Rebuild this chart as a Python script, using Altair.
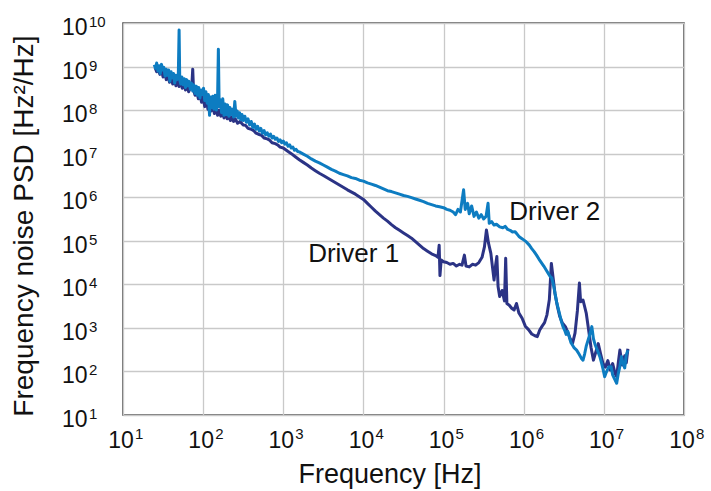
import altair as alt
import pandas as pd

# ---- data (log10 values) ----
d1_logf = [1.40, 1.42, 1.44, 1.46, 1.48, 1.50, 1.52, 1.54, 1.56, 1.58, 1.60, 1.62, 1.64, 1.66, 1.68, 1.70,
           1.72, 1.74, 1.76, 1.78, 1.80, 1.82, 1.84, 1.86, 1.87, 1.88, 1.90, 1.92, 1.94, 1.96, 1.98, 2.00,
           2.02, 2.04, 2.06, 2.08, 2.10, 2.12, 2.14, 2.16, 2.18, 2.20, 2.22, 2.24, 2.26, 2.28, 2.30, 2.32,
           2.34, 2.36, 2.38, 2.40, 2.43, 2.46, 2.50, 2.53, 2.56, 2.60, 2.63, 2.66, 2.70, 2.73, 2.76, 2.80,
           2.83, 2.86, 2.90, 2.93, 2.96, 3.00, 3.03, 3.06, 3.10, 3.15, 3.20, 3.25, 3.30, 3.35, 3.40, 3.45,
           3.50, 3.60, 3.70, 3.80, 3.90, 4.00, 4.05, 4.10, 4.15, 4.20, 4.25, 4.30, 4.35, 4.40, 4.45, 4.50,
           4.55, 4.60, 4.65, 4.70, 4.75, 4.80, 4.85, 4.90, 4.93, 4.945, 4.955, 4.97, 5.00, 5.04, 5.08, 5.12,
           5.16, 5.20, 5.23, 5.26, 5.28, 5.32, 5.36, 5.40, 5.44, 5.48, 5.51, 5.535, 5.56, 5.59, 5.61, 5.63,
           5.65, 5.665, 5.68, 5.70, 5.73, 5.76, 5.775, 5.79, 5.82, 5.85, 5.88, 5.91, 5.94, 5.98, 6.02, 6.06,
           6.10, 6.14, 6.17, 6.20, 6.23, 6.26, 6.29, 6.32, 6.345, 6.37, 6.39, 6.42, 6.45, 6.48, 6.52, 6.55,
           6.58, 6.61, 6.64, 6.67, 6.695, 6.71, 6.74, 6.78, 6.81, 6.84, 6.87, 6.90, 6.93, 6.96, 6.99, 7.02,
           7.05, 7.08, 7.11, 7.14, 7.16, 7.18, 7.20, 7.23, 7.26, 7.28, 7.30]
d1_logp = [8.98, 8.88, 8.96, 8.82, 8.92, 8.76, 8.86, 8.70, 8.80, 8.64, 8.76, 8.60, 8.72, 8.56, 8.68, 8.54,
           8.64, 8.50, 8.60, 8.46, 8.56, 8.42, 8.52, 8.60, 8.94, 8.46, 8.34, 8.44, 8.26, 8.36, 8.18, 8.30,
           8.08, 8.24, 8.02, 8.18, 7.98, 8.12, 7.92, 8.08, 7.88, 8.00, 7.86, 7.96, 7.82, 7.92, 7.80, 7.88,
           7.76, 7.84, 7.74, 7.80, 7.70, 7.74, 7.66, 7.65, 7.58, 7.56, 7.53, 7.47, 7.44, 7.42, 7.36, 7.34,
           7.31, 7.25, 7.23, 7.20, 7.15, 7.13, 7.09, 7.05, 7.00, 6.93, 6.86, 6.80, 6.74, 6.67, 6.61, 6.55,
           6.50, 6.39, 6.28, 6.17, 6.07, 5.95, 5.86, 5.77, 5.68, 5.60, 5.52, 5.45, 5.37, 5.30, 5.24, 5.18,
           5.12, 5.06, 4.98, 4.90, 4.82, 4.76, 4.70, 4.66, 4.62, 4.90, 4.20, 4.56, 4.52, 4.50, 4.46, 4.48,
           4.42, 4.46, 4.44, 4.67, 4.42, 4.40, 4.46, 4.44, 4.50, 4.62, 4.86, 5.25, 4.95, 4.71, 4.40, 4.10,
           4.45, 4.64, 3.95, 3.72, 3.86, 3.62, 4.60, 3.56, 3.52, 3.45, 3.41, 3.56, 3.34, 3.22, 3.04, 2.96,
           2.86, 2.82, 2.80, 2.95, 3.04, 3.12, 3.30, 3.65, 4.48, 4.10, 3.79, 3.50, 3.26, 3.12, 3.03, 2.90,
           2.75, 2.65, 2.88, 3.40, 4.03, 3.60, 3.64, 3.34, 2.95, 2.55, 2.26, 2.45, 2.64, 2.40, 2.18, 2.10,
           2.25, 2.03, 2.18, 1.95, 1.88, 2.20, 2.49, 2.15, 2.36, 2.20, 2.52]

d2_logf = [1.390, 1.405, 1.420, 1.435, 1.450, 1.465, 1.480, 1.495, 1.510, 1.525, 1.540, 1.555, 1.570,
           1.585, 1.600, 1.615, 1.630, 1.645, 1.660, 1.675, 1.690, 1.700, 1.708, 1.720, 1.735, 1.750,
           1.765, 1.780, 1.795, 1.810, 1.825, 1.840, 1.855, 1.870, 1.885, 1.900, 1.915, 1.930, 1.945,
           1.960, 1.975, 1.990, 2.005, 2.020, 2.035, 2.050, 2.065, 2.080, 2.090, 2.105, 2.120, 2.135,
           2.150, 2.165, 2.180, 2.190, 2.200, 2.215, 2.230, 2.245, 2.260, 2.275, 2.290, 2.305, 2.320,
           2.335, 2.350, 2.365, 2.380, 2.395, 2.410, 2.425, 2.440, 2.455, 2.470, 2.485, 2.500, 2.520,
           2.540, 2.560, 2.580, 2.600, 2.620, 2.640, 2.660, 2.680, 2.700, 2.720, 2.740, 2.760, 2.780,
           2.800, 2.820, 2.840, 2.860, 2.880, 2.900, 2.920, 2.940, 2.960, 2.980, 3.000, 3.020, 3.040,
           3.060, 3.080, 3.100, 3.120, 3.140, 3.160, 3.180, 3.200,
           3.25, 3.30, 3.35, 3.40, 3.45, 3.50, 3.55, 3.60, 3.65, 3.70, 3.75, 3.80,
           3.85, 3.90, 3.95, 4.00, 4.05, 4.10, 4.15, 4.20, 4.25, 4.30, 4.35, 4.40, 4.45, 4.50, 4.55, 4.60,
           4.65, 4.70, 4.75, 4.80, 4.85, 4.90, 4.95, 5.00, 5.04, 5.08, 5.12, 5.15, 5.18, 5.21, 5.25, 5.27,
           5.30, 5.32, 5.35, 5.38, 5.41, 5.44, 5.47, 5.50, 5.53, 5.555, 5.57, 5.60, 5.63, 5.66, 5.70, 5.74,
           5.77, 5.80, 5.83, 5.86, 5.89, 5.91, 5.94, 5.97, 6.00, 6.03, 6.07, 6.10, 6.13, 6.16, 6.19, 6.22,
           6.25, 6.28, 6.31, 6.33, 6.35, 6.37, 6.39, 6.41, 6.43, 6.45, 6.47, 6.49, 6.51, 6.53, 6.55, 6.57,
           6.59, 6.61, 6.63, 6.66, 6.69, 6.72, 6.74, 6.76, 6.78, 6.80, 6.82, 6.85, 6.87, 6.89, 6.92, 6.95,
           6.97, 6.99, 7.01, 7.03, 7.06, 7.09, 7.11, 7.13, 7.16, 7.18, 7.20, 7.22, 7.24, 7.26, 7.28, 7.30]
d2_logp = [9.04, 8.96, 9.08, 8.90, 9.02, 8.84, 9.05, 8.92, 8.98, 8.78, 8.94, 8.80, 8.92,
           8.66, 8.88, 8.74, 8.84, 8.62, 8.80, 8.70, 8.78, 9.84, 8.70, 8.60, 8.76, 8.58,
           8.72, 8.52, 8.70, 8.56, 8.66, 8.48, 8.62, 8.44, 8.58, 8.38, 8.55, 8.34, 8.52,
           8.28, 8.46, 8.36, 8.50, 8.22, 8.42, 8.16, 8.36, 7.88, 8.30, 8.06, 8.32, 8.02,
           8.34, 8.00, 8.24, 9.40, 8.08, 8.24, 7.94, 8.26, 7.88, 8.14, 7.90, 8.12, 7.86,
           8.06, 7.90, 8.02, 7.84, 8.20, 7.86, 7.98, 7.82, 7.94, 7.78, 7.90, 7.76, 7.86,
           7.72, 7.80, 7.66, 7.74, 7.60, 7.68, 7.56, 7.63, 7.52, 7.58, 7.47, 7.53, 7.43,
           7.48, 7.40, 7.45, 7.36, 7.40, 7.33, 7.36, 7.28, 7.32, 7.25, 7.29, 7.22, 7.25,
           7.17, 7.20, 7.13, 7.15, 7.08, 7.10, 7.05, 7.04,
           6.99, 6.94, 6.88, 6.83, 6.79, 6.74, 6.69, 6.64, 6.60, 6.55, 6.52, 6.49,
           6.45, 6.43, 6.39, 6.37, 6.33, 6.30, 6.27, 6.23, 6.19, 6.15, 6.13, 6.10, 6.07, 6.04, 6.02, 5.99,
           5.96, 5.93, 5.90, 5.86, 5.83, 5.80, 5.78, 5.76, 5.72, 5.70, 5.66, 5.60, 5.72, 5.66, 6.17, 5.72,
           5.86, 5.62, 5.80, 5.56, 5.66, 5.52, 5.60, 5.50, 5.56, 5.86, 5.40, 5.44, 5.36, 5.38, 5.32, 5.30,
           5.33, 5.26, 5.24, 5.20, 5.21, 5.17, 5.10, 5.06, 5.02, 4.98, 4.90, 4.82, 4.75, 4.67, 4.58, 4.50,
           4.42, 4.33, 4.24, 4.18, 4.15, 4.00, 3.80, 3.60, 3.45, 3.30, 3.15, 3.03, 2.95, 2.85, 2.92, 2.78,
           2.66, 2.60, 2.54, 2.49, 2.40, 2.30, 2.26, 2.40, 2.58, 2.70, 2.82, 3.03, 2.75, 2.62, 2.48, 2.34,
           2.20, 2.05, 1.88, 1.98, 2.10, 2.11, 1.92, 1.84, 1.73, 1.95, 2.12, 2.34, 2.18, 2.08, 2.38, 2.49]

x_decade_exp = [1, 2, 3, 4, 5, 6, 7, 8]
y_decade_exp = [1, 2, 3, 4, 5, 6, 7, 8, 9, 10]

series_labels = ["Driver 1", "Driver 2"]
label_logf = [3.31, 5.82]
label_logp = [4.52, 5.48]

x_title = "Frequency [Hz]"
y_title = "Frequency noise PSD [Hz²/Hz]"

C1 = "#2b3385"
C2 = "#0d7cc1"
FONT = "Liberation Sans"

df1 = pd.DataFrame({"f": [10 ** v for v in d1_logf], "p": [10 ** v for v in d1_logp]})
df2 = pd.DataFrame({"f": [10 ** v for v in d2_logf], "p": [10 ** v for v in d2_logp]})
xl = pd.DataFrame({"f": [10.0 ** e for e in x_decade_exp], "base": ["10"] * len(x_decade_exp),
                   "exp": [str(e) for e in x_decade_exp]})
yl = pd.DataFrame({"p": [10.0 ** e for e in y_decade_exp], "base": ["10"] * len(y_decade_exp),
                   "exp": [str(e) for e in y_decade_exp]})
lab = pd.DataFrame({"f": [10 ** v for v in label_logf], "p": [10 ** v for v in label_logp],
                    "t": series_labels})

xs = alt.Scale(type="log", domain=[10, 1e8], nice=False)
ys = alt.Scale(type="log", domain=[10, 1e10], nice=False)
ax = alt.Axis(values=[10.0 ** e for e in x_decade_exp], grid=True, labels=False, ticks=False,
              domain=False, title=None, gridColor="#c9c9c9", gridWidth=1.3)
ay = alt.Axis(values=[10.0 ** e for e in y_decade_exp], grid=True, labels=False, ticks=False,
              domain=False, title=None, gridColor="#c9c9c9", gridWidth=1.3)
X = alt.X("f:Q", scale=xs, axis=ax)
Y = alt.Y("p:Q", scale=ys, axis=ay)

line1 = alt.Chart(df1).mark_line(color=C1, strokeWidth=3, strokeJoin="round").encode(x=X, y=Y)
line2 = alt.Chart(df2).mark_line(color=C2, strokeWidth=3, strokeJoin="round").encode(x=X, y=Y)

xlab_base = alt.Chart(xl).mark_text(font=FONT, fontSize=23, align="center", baseline="alphabetic",
                                    dx=-2, color="#111").encode(x=X, y=alt.value(425), text="base:N")
xlab_exp = alt.Chart(xl).mark_text(font=FONT, fontSize=15, align="left", baseline="alphabetic",
                                   dx=12, color="#111").encode(x=X, y=alt.value(416), text="exp:N")
ylab_base = alt.Chart(yl).mark_text(font=FONT, fontSize=23, align="left", baseline="alphabetic",
                                    dy=12, color="#111").encode(x=alt.value(-61), y=Y, text="base:N")
ylab_exp = alt.Chart(yl).mark_text(font=FONT, fontSize=15, align="left", baseline="alphabetic",
                                   dy=4, color="#111").encode(x=alt.value(-34), y=Y, text="exp:N")

labels = alt.Chart(lab).mark_text(font=FONT, fontSize=26, align="left", baseline="alphabetic",
                                  color="#111").encode(x=X, y=Y, text="t:N")

xt = alt.Chart(pd.DataFrame({"t": [x_title]})).mark_text(
    font=FONT, fontSize=27, align="center", baseline="alphabetic", color="#111"
).encode(x=alt.value(267), y=alt.value(460), text="t:N")
yt = alt.Chart(pd.DataFrame({"t": [y_title]})).mark_text(
    font=FONT, fontSize=28, align="center", baseline="alphabetic", angle=270, color="#111"
).encode(x=alt.value(-90), y=alt.value(203), text="t:N")

chart = alt.layer(line1, line2, xlab_base, xlab_exp, ylab_base, ylab_exp, labels, xt, yt).properties(
    width=561, height=392,
    autosize=alt.AutoSizeParams(type="none"),
    padding={"left": 123, "top": 23, "right": 27, "bottom": 76},
    background="white",
).configure_view(stroke="#444444", strokeWidth=1.5)

chart.save("out.html", embed_options={"renderer": "svg", "actions": False})
